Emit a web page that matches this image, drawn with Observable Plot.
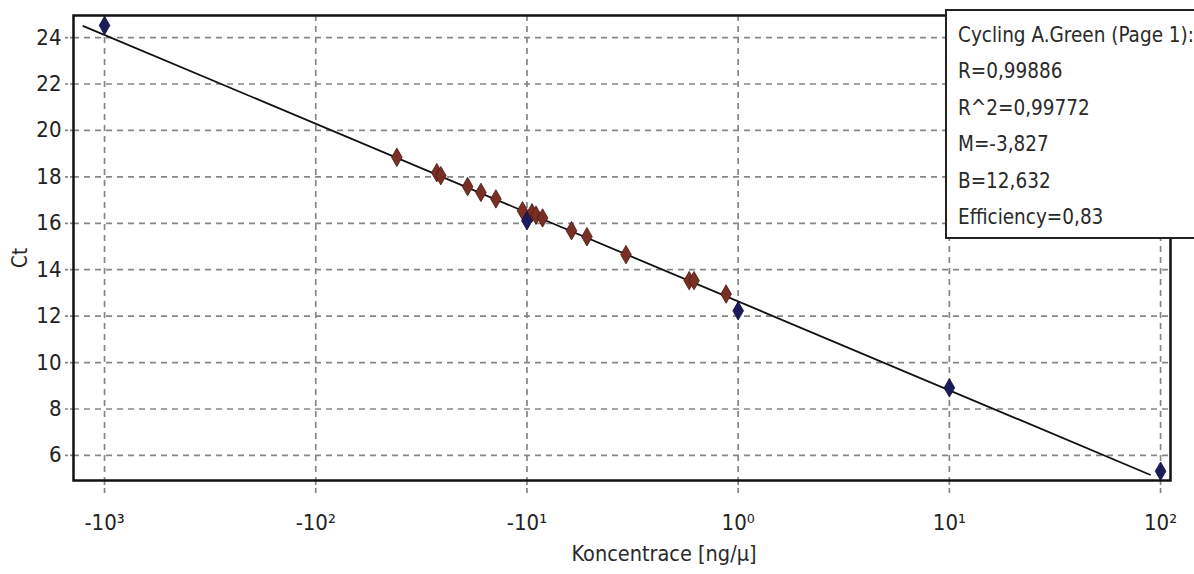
<!DOCTYPE html>
<html>
<head>
<meta charset="utf-8">
<script src="https://cdn.jsdelivr.net/npm/d3@7"></script>
<script src="https://cdn.jsdelivr.net/npm/@observablehq/plot@0.6"></script>
<style>
  html, body { margin: 0; padding: 0; background: #fff; }
  #wrap { position: relative; width: 1194px; height: 574px; overflow: hidden; }
  #legend {
    position: absolute; left: 945px; top: 9px; width: 260px; height: 230px;
    background: #fff; border: 2px solid #222; box-sizing: border-box;
    font-family: "Liberation Sans Narrow", "DejaVu Sans Condensed", "Liberation Sans", sans-serif;
    font-size: 20.5px; color: #2a2a2a; padding: 6px 0 0 11px;
  }
  #legend div { white-space: nowrap; line-height: 36.4px; height: 36.4px; }
</style>
</head>
<body>
<div id="wrap">
  <div id="chart"></div>
  <div id="legend"></div>
</div>
<script>
// Standards (known concentrations, log10 ng/µl) and their Ct
const stdLogConc = [-3, -1, 0, 1, 2];
const stdCt = [24.52, 16.11, 12.23, 8.91, 5.32];

// Unknown samples placed on the curve (log10 concentration) and their Ct
const unkLogConc = [-1.616, -1.427, -1.408, -1.281, -1.218, -1.147, -1.021, -0.976, -0.957, -0.926, -0.789, -0.716, -0.531, -0.232, -0.209, -0.057];
const unkCt = [18.84, 18.18, 18.05, 17.58, 17.33, 17.05, 16.54, 16.45, 16.35, 16.23, 15.68, 15.42, 14.65, 13.53, 13.53, 12.95];

// Regression (from the legend) and the extent it is drawn over
const slopeM = -3.827;
const interceptB = 12.632;
const lineExtent = [-3.1, 1.95];

// Axis ticks
const xTicks = [-3, -2, -1, 0, 1, 2];
const xTickLabels = ["-10\u00B3", "-10\u00B2", "-10\u00B9", "10\u2070", "10\u00B9", "10\u00B2"];
const yTicks = [6, 8, 10, 12, 14, 16, 18, 20, 22, 24];

// Legend text
const legendLines = ["Cycling A.Green (Page 1):", "R=0,99886", "R^2=0,99772", "M=-3,827", "B=12,632", "Efficiency=0,83"];

const standards = stdLogConc.map((x, i) => ({x, y: stdCt[i]}));
const unknowns = unkLogConc.map((x, i) => ({x, y: unkCt[i]}));
const fitLine = lineExtent.map(x => ({x, y: slopeM * x + interceptB}));

const narrow = '"Liberation Sans Narrow", "DejaVu Sans Condensed", "Liberation Sans", sans-serif';
const gridStyle = {stroke: "#868686", strokeOpacity: 1, strokeWidth: 1.7, strokeDasharray: "6,5"};

const chart = Plot.plot({
  width: 1194,
  height: 574,
  marginLeft: 73,
  marginRight: 24,
  marginTop: 15,
  marginBottom: 94,
  style: {background: "#fff", fontFamily: narrow, color: "#222"},
  x: {domain: [-3.147, 2.047]},
  y: {domain: [4.92, 24.95]},
  marks: [
    Plot.gridX(xTicks, gridStyle),
    Plot.gridY(yTicks, gridStyle),
    Plot.axisX(xTicks, {
      tickFormat: (d) => xTickLabels[xTicks.indexOf(d)],
      tickSize: 13, tickPadding: 21, stroke: "#868686", strokeWidth: 1.7, strokeDasharray: "5,3",
      fontSize: 22, label: null
    }),
    Plot.axisY(yTicks, {
      tickSize: 9, tickPadding: 3, stroke: "#868686", strokeWidth: 1.7, strokeDasharray: "3,2",
      fontSize: 22, label: null
    }),
    Plot.frame({stroke: "#111", strokeWidth: 2.5}),
    Plot.line(fitLine, {x: "x", y: "y", stroke: "#111", strokeWidth: 1.8}),
    Plot.dot(unknowns, {x: "x", y: "y", symbol: "diamond", r: 5.6, fill: "#7a2f25", stroke: "#4a1812", strokeWidth: 0.8}),
    Plot.dot(standards, {x: "x", y: "y", symbol: "diamond", r: 5.6, fill: "#1c1c5c", stroke: "#0c0c38", strokeWidth: 0.8}),
    Plot.text(["Koncentrace [ng/\u03BC]"], {frameAnchor: "bottom", dx: 42, dy: 80, fontSize: 21.5, fontFamily: '"DejaVu Sans Condensed", "Open Sans", sans-serif', fill: "#2a2a2a"}),
    Plot.text(["Ct"], {frameAnchor: "left", dx: -53, dy: 20, rotate: -90, fontSize: 20.5, fontFamily: '"DejaVu Sans Condensed", "Open Sans", sans-serif', fill: "#2a2a2a"})
  ]
});
document.getElementById("chart").appendChild(chart);

const legend = document.getElementById("legend");
legendLines.forEach(t => {
  const d = document.createElement("div");
  d.textContent = t;
  legend.appendChild(d);
});
</script>
</body>
</html>
